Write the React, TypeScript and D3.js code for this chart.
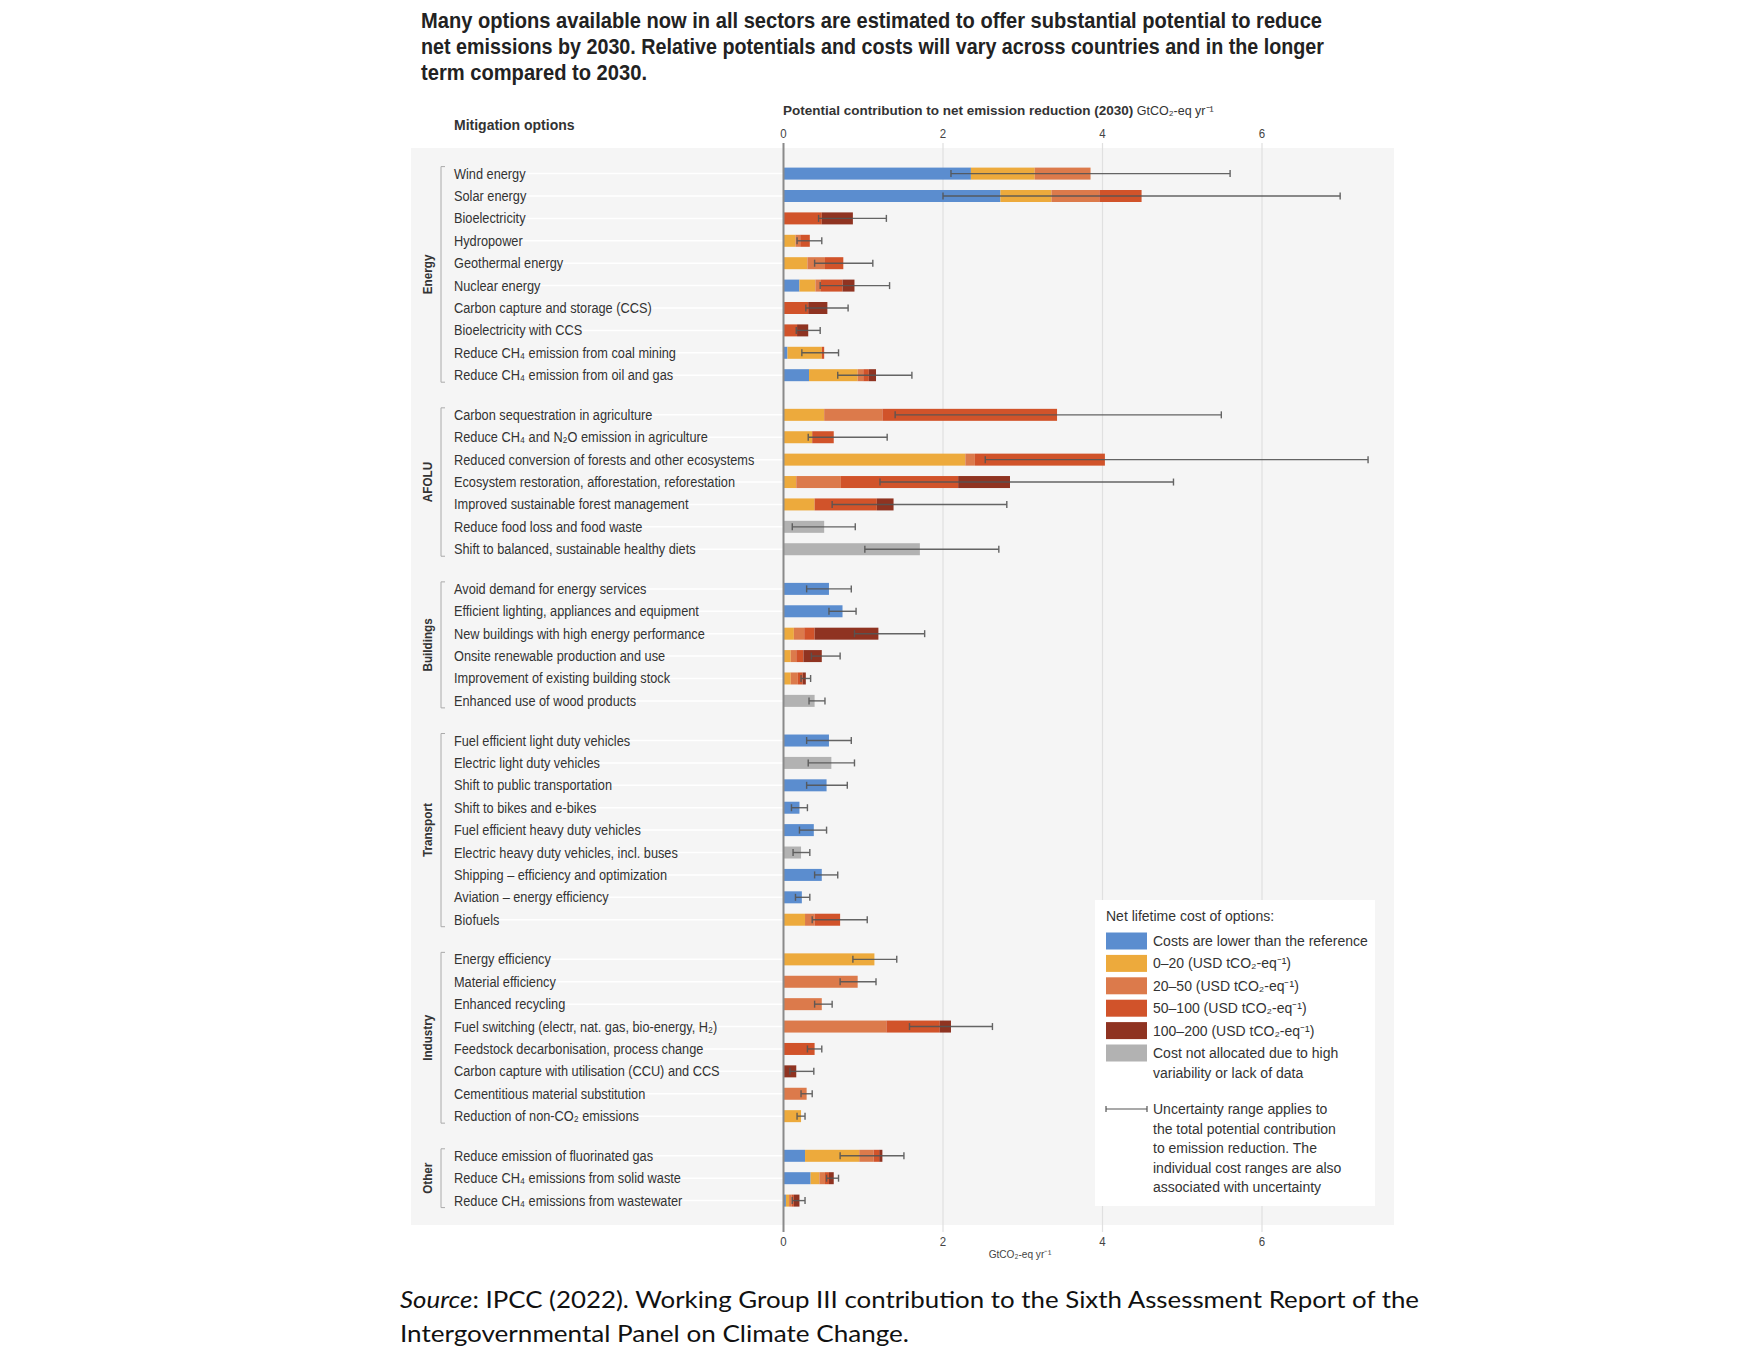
import React from 'react';
import * as d3 from 'd3';

const sectors = ["Energy", "AFOLU", "Buildings", "Transport", "Industry", "Other"];
const sectorSizes = [10, 7, 6, 9, 8, 3];

const options = [
  "Wind energy", "Solar energy", "Bioelectricity", "Hydropower", "Geothermal energy", "Nuclear energy",
  "Carbon capture and storage (CCS)", "Bioelectricity with CCS", "Reduce CH₄ emission from coal mining",
  "Reduce CH₄ emission from oil and gas",
  "Carbon sequestration in agriculture", "Reduce CH₄ and N₂O emission in agriculture",
  "Reduced conversion of forests and other ecosystems", "Ecosystem restoration, afforestation, reforestation",
  "Improved sustainable forest management", "Reduce food loss and food waste", "Shift to balanced, sustainable healthy diets",
  "Avoid demand for energy services", "Efficient lighting, appliances and equipment", "New buildings with high energy performance",
  "Onsite renewable production and use", "Improvement of existing building stock", "Enhanced use of wood products",
  "Fuel efficient light duty vehicles", "Electric light duty vehicles", "Shift to public transportation",
  "Shift to bikes and e-bikes", "Fuel efficient heavy duty vehicles", "Electric heavy duty vehicles, incl. buses",
  "Shipping – efficiency and optimization", "Aviation – energy efficiency", "Biofuels",
  "Energy efficiency", "Material efficiency", "Enhanced recycling", "Fuel switching (electr, nat. gas, bio-energy, H₂)",
  "Feedstock decarbonisation, process change", "Carbon capture with utilisation (CCU) and CCS",
  "Cementitious material substitution", "Reduction of non-CO₂ emissions",
  "Reduce emission of fluorinated gas", "Reduce CH₄ emissions from solid waste", "Reduce CH₄ emissions from wastewater",
];

const costLower = [2.35, 2.72, 0, 0, 0, 0.20, 0, 0, 0.05, 0.32, 0, 0, 0, 0, 0, 0, 0, 0.57, 0.74, 0, 0, 0, 0, 0.57, 0, 0.54, 0.20, 0.38, 0, 0.48, 0.23, 0, 0, 0, 0, 0, 0, 0, 0, 0, 0.27, 0.34, 0.03];
const cost0to20 = [0.80, 0.64, 0, 0.15, 0.30, 0.20, 0, 0, 0.43, 0.61, 0.51, 0.36, 2.28, 0.16, 0.39, 0, 0, 0, 0, 0.13, 0.09, 0.09, 0, 0, 0, 0, 0, 0, 0, 0, 0, 0.27, 1.14, 0, 0, 0, 0, 0, 0, 0.22, 0.68, 0.11, 0.04];
const cost20to50 = [0.70, 0.60, 0, 0.06, 0.22, 0.07, 0, 0, 0, 0.07, 0.73, 0, 0.12, 0.56, 0, 0, 0, 0, 0, 0.13, 0.07, 0.09, 0, 0, 0, 0, 0, 0, 0, 0, 0, 0.12, 0, 0.93, 0.48, 1.29, 0, 0, 0.29, 0, 0.18, 0.07, 0.03];
const cost50to100 = [0, 0.53, 0.48, 0.12, 0.23, 0.27, 0.31, 0.17, 0.03, 0.07, 2.19, 0.27, 1.63, 1.47, 0.78, 0, 0, 0, 0, 0.13, 0.09, 0.06, 0, 0, 0, 0, 0, 0, 0, 0, 0, 0.32, 0, 0, 0, 0.67, 0.39, 0, 0, 0, 0.07, 0.05, 0.03];
const cost100to200 = [0, 0, 0.39, 0, 0, 0.15, 0.24, 0.14, 0, 0.09, 0, 0, 0, 0.65, 0.21, 0, 0, 0, 0, 0.80, 0.23, 0.04, 0, 0, 0, 0, 0, 0, 0, 0, 0, 0, 0, 0, 0, 0.14, 0, 0.16, 0, 0, 0.04, 0.06, 0.07];
const costNotAllocated = [0, 0, 0, 0, 0, 0, 0, 0, 0, 0, 0, 0, 0, 0, 0, 0.51, 1.71, 0, 0, 0, 0, 0, 0.39, 0, 0.60, 0, 0, 0, 0.22, 0, 0, 0, 0, 0, 0, 0, 0, 0, 0, 0, 0, 0, 0];
const rangeLow = [2.10, 2.00, 0.44, 0.17, 0.39, 0.46, 0.28, 0.16, 0.23, 0.68, 1.40, 0.31, 2.53, 1.21, 0.61, 0.11, 1.02, 0.29, 0.57, 0.89, 0.35, 0.22, 0.32, 0.29, 0.31, 0.29, 0.10, 0.20, 0.12, 0.39, 0.15, 0.36, 0.87, 0.71, 0.39, 1.58, 0.30, 0.08, 0.22, 0.17, 0.71, 0.54, 0.11];
const rangeHigh = [5.60, 6.98, 1.29, 0.48, 1.12, 1.33, 0.81, 0.46, 0.69, 1.61, 5.49, 1.30, 7.33, 4.89, 2.80, 0.90, 2.70, 0.85, 0.91, 1.77, 0.71, 0.34, 0.52, 0.85, 0.89, 0.80, 0.30, 0.54, 0.33, 0.68, 0.33, 1.05, 1.42, 1.16, 0.61, 2.62, 0.48, 0.38, 0.36, 0.27, 1.51, 0.69, 0.27];

const xTicks = [0, 2, 4, 6];
const costKeys = ["lower", "c0_20", "c20_50", "c50_100", "c100_200", "na"];
const costLabels = [
  ["Costs are lower than the reference"],
  ["0–20 (USD tCO₂-eq⁻¹)"],
  ["20–50 (USD tCO₂-eq⁻¹)"],
  ["50–100 (USD tCO₂-eq⁻¹)"],
  ["100–200 (USD tCO₂-eq⁻¹)"],
  ["Cost not allocated due to high", "variability or lack of data"],
];
const costColors = ["#5b8dcf", "#edaa3c", "#dc7a4b", "#d1532a", "#8f3321", "#b2b2b2"];

const titleLines = [
  "Many options available now in all sectors are estimated to offer substantial potential to reduce",
  "net emissions by 2030. Relative potentials and costs will vary across countries and in the longer",
  "term compared to 2030.",
];
const uncertaintyLines = [
  "Uncertainty range applies to",
  "the total potential contribution",
  "to emission reduction. The",
  "individual cost ranges are also",
  "associated with uncertainty",
];

const SANS = "'Liberation Sans', Arial, sans-serif";

function NText({ x, y, sx = 1, rotate = 0, children, ...rest }: any) {
  const tr = `translate(${x},${y})${rotate ? ` rotate(${rotate})` : ''} scale(${sx},1)`;
  return <text transform={tr} {...rest}>{children}</text>;
}

export default function App() {
  const W = 1756, H = 1356;
  const x = d3.scaleLinear().domain([0, 6]).range([783.5, 1262]);

  const GAP = 0.77;
  const slots: number[] = [];
  sectorSizes.forEach((n, g) => {
    for (let k = 0; k < n; k++) slots.push(slots.length + g * GAP);
  });
  const lastSlot = slots[slots.length - 1];
  const y = d3.scaleLinear().domain([0, lastSlot]).range([173.6, 1200.6]);

  const table = options.map((name, i) => ({
    name,
    lower: costLower[i], c0_20: cost0to20[i], c20_50: cost20to50[i],
    c50_100: cost50to100[i], c100_200: cost100to200[i], na: costNotAllocated[i],
  }));
  const stacked = d3.stack<any>().keys(costKeys)(table);
  const barH = 12;

  const panel = { x0: 411, x1: 1394, y0: 148, y1: 1225 };

  let start = 0;
  const groups = sectorSizes.map((n, g) => {
    const first = start, last = start + n - 1;
    start += n;
    return { name: sectors[g], y0: y(slots[first]), y1: y(slots[last]) };
  });

  return (
    <svg width={W} height={H} style={{ position: 'absolute', left: 0, top: 0, display: 'block' }}
      fontFamily={SANS}>
      <rect x={0} y={0} width={W} height={H} fill="#ffffff" />
      {titleLines.map((t, i) => (
        <text key={i} x={421} y={28 + i * 26} fontSize={21.5} fontWeight="bold" fill="#222"
          textLength={i === 0 ? 901 : i === 1 ? 903 : 226} lengthAdjust="spacingAndGlyphs">{t}</text>
      ))}
      <rect x={panel.x0} y={panel.y0} width={panel.x1 - panel.x0} height={panel.y1 - panel.y0} fill="#f5f5f5" />
      <text x={454} y={130} fontSize={14} fontWeight="bold" fill="#333">Mitigation options</text>
      <text x={783} y={115} fontSize={13.5} fill="#333">
        <tspan fontWeight="bold">Potential contribution to net emission reduction (2030)</tspan>
        <tspan fontSize={12.5}> GtCO₂-eq yr⁻¹</tspan>
      </text>
      {xTicks.map(t => (
        <g key={t}>
          <NText x={x(t)} y={138} sx={0.85} fontSize={13.5} textAnchor="middle" fill="#444">{t}</NText>
          <NText x={x(t)} y={1246} sx={0.85} fontSize={13.5} textAnchor="middle" fill="#444">{t}</NText>
        </g>
      ))}
      <NText x={1020} y={1258} sx={0.88} fontSize={11.5} textAnchor="middle" fill="#444">GtCO₂-eq yr⁻¹</NText>
      {xTicks.filter(t => t > 0).map(t => (
        <line key={t} x1={x(t)} x2={x(t)} y1={143} y2={1232} stroke="#e0e0e0" strokeWidth={1.2} />
      ))}
      {options.map((o, i) => (
        <line key={i} x1={454} x2={x(0)} y1={y(slots[i])} y2={y(slots[i])} stroke="#ffffff" strokeWidth={1.5} />
      ))}
      {stacked.map((layer, k) => (
        <g key={costKeys[k]} fill={costColors[k]}>
          {layer.map((d, i) => (d[1] - d[0] > 0 ? (
            <rect key={i} x={x(d[0])} y={y(slots[i]) - barH / 2} width={x(d[1]) - x(d[0])} height={barH} />
          ) : null))}
        </g>
      ))}
      <line x1={x(0)} x2={x(0)} y1={143} y2={1232} stroke="#8a8a8a" strokeWidth={2} />
      <g stroke="#555" strokeWidth={1.4} opacity={0.9}>
        {options.map((o, i) => {
          const yy = y(slots[i]);
          return (
            <g key={i}>
              <line x1={x(rangeLow[i])} x2={x(rangeHigh[i])} y1={yy} y2={yy} />
              <line x1={x(rangeLow[i])} x2={x(rangeLow[i])} y1={yy - 3.5} y2={yy + 3.5} />
              <line x1={x(rangeHigh[i])} x2={x(rangeHigh[i])} y1={yy - 3.5} y2={yy + 3.5} />
            </g>
          );
        })}
      </g>
      {options.map((o, i) => (
        <NText key={i} x={454} y={y(slots[i]) + 5} sx={0.88} fontSize={14.5} fill="#333">{o}</NText>
      ))}
      {groups.map(g => (
        <g key={g.name}>
          <path d={`M445,${g.y0 - 7} H441 V${g.y1 + 7} H445`} fill="none" stroke="#aaa" strokeWidth={1} />
          <NText x={432} y={(g.y0 + g.y1) / 2} rotate={-90} sx={0.9} textAnchor="middle"
            fontSize={13} fontWeight="bold" fill="#333">{g.name}</NText>
        </g>
      ))}
      <rect x={1095} y={900} width={280} height={306} fill="#ffffff" />
      <text x={1106} y={921} fontSize={14} fill="#333">Net lifetime cost of options:</text>
      {costLabels.map((lines, k) => {
        const cy = 941 + k * 22.4;
        return (
          <g key={k}>
            <rect x={1106} y={cy - 8.5} width={41} height={17} fill={costColors[k]} />
            {lines.map((l, j) => (
              <text key={j} x={1153} y={cy + 5 + j * 19.5} fontSize={14} fill="#333">{l}</text>
            ))}
          </g>
        );
      })}
      <g stroke="#555" strokeWidth={1.2}>
        <line x1={1106} x2={1147} y1={1109} y2={1109} />
        <line x1={1106} x2={1106} y1={1106} y2={1112} />
        <line x1={1147} x2={1147} y1={1106} y2={1112} />
      </g>
      {uncertaintyLines.map((l, j) => (
        <text key={j} x={1153} y={1114 + j * 19.5} fontSize={14} fill="#333">{l}</text>
      ))}
      <text x={400} y={1308} fontSize={24} fontFamily="Lato, 'Open Sans', sans-serif" fill="#111"
        textLength={1019} lengthAdjust="spacingAndGlyphs">
        <tspan fontStyle="italic">Source</tspan>: IPCC (2022). Working Group III contribution to the Sixth Assessment Report of the
      </text>
      <text x={400} y={1342} fontSize={24} fontFamily="Lato, 'Open Sans', sans-serif" fill="#111"
        textLength={509} lengthAdjust="spacingAndGlyphs">Intergovernmental Panel on Climate Change.</text>
    </svg>
  );
}
